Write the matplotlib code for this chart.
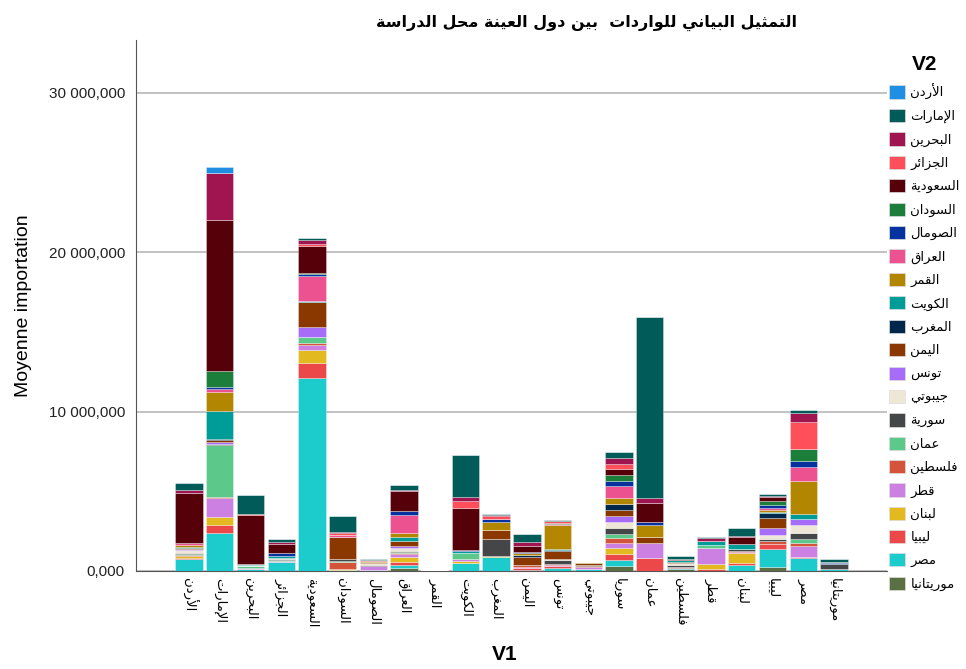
import matplotlib
matplotlib.use("Agg")
import matplotlib.pyplot as plt
from matplotlib.patches import Patch
from matplotlib.ticker import FuncFormatter
import numpy as np

# categories on the x axis (V1)
countries = ["الأردن", "الإمارات", "البحرين", "الجزائر", "السعودية", "السودان",
             "الصومال", "العراق", "القمر", "الكويت", "المغرب", "اليمن", "تونس",
             "جيبوتي", "سوريا", "عمان", "فلسطين", "قطر", "لبنان", "ليبيا", "مصر",
             "موريتانيا"]

# legend entries (V2), top of stack first
partners = ["الأردن", "الإمارات", "البحرين", "الجزائر", "السعودية", "السودان",
            "الصومال", "العراق", "القمر", "الكويت", "المغرب", "اليمن", "تونس",
            "جيبوتي", "سورية", "عمان", "فلسطين", "قطر", "لبنان", "ليبيا", "مصر",
            "موريتانيا"]

# mean imports in millions, one list per partner, in the order of countries
jordan     = [0, 0.36, 0, 0, 0, 0, 0, 0, 0, 0, 0, 0, 0, 0, 0, 0, 0, 0, 0, 0, 0, 0]
uae        = [0.5, 0, 1.21, 0.2, 0.1, 1.03, 0.05, 0.31, 0.03, 2.61, 0.03, 0.48, 0.08, 0.05, 0.38, 11.37, 0.15, 0.1, 0.52, 0.17, 0.15, 0.15]
bahrain    = [0.15, 2.97, 0, 0.1, 0.27, 0.08, 0, 0.07, 0, 0.25, 0.1, 0.25, 0, 0, 0.36, 0.31, 0, 0.19, 0.04, 0.05, 0.56, 0]
algeria    = [0.03, 0, 0.03, 0, 0.1, 0.12, 0, 0, 0, 0.42, 0.15, 0, 0.1, 0, 0.33, 0, 0, 0, 0, 0, 1.69, 0]
saudi      = [3.1, 9.47, 3.11, 0.59, 1.72, 0, 0, 1.25, 0, 2.65, 0, 0.36, 0, 0, 0.36, 1.17, 0.05, 0, 0.46, 0.25, 0, 0]
sudan      = [0.02, 1.0, 0, 0, 0.05, 0, 0, 0, 0, 0, 0, 0, 0.08, 0, 0.36, 0, 0, 0, 0, 0.27, 0.79, 0]
somalia    = [0.02, 0.12, 0, 0.2, 0.15, 0, 0, 0.25, 0, 0.07, 0.17, 0.06, 0, 0, 0.36, 0.17, 0, 0, 0, 0.15, 0.36, 0.05]
iraq       = [0.08, 0.23, 0, 0, 1.53, 0.1, 0.05, 1.1, 0, 0, 0, 0.05, 0.05, 0, 0.73, 0, 0, 0, 0, 0.15, 0.88, 0]
comoros    = [0.15, 1.19, 0, 0, 0.02, 0, 0.06, 0.25, 0, 0, 0.5, 0.1, 1.53, 0.06, 0.38, 0.75, 0.05, 0, 0, 0.1, 2.05, 0]
kuwait     = [0.05, 1.76, 0.03, 0.08, 0.05, 0, 0, 0.29, 0, 0.1, 0, 0, 0.06, 0, 0, 0, 0.1, 0.2, 0.33, 0.06, 0.31, 0]
morocco    = [0.02, 0.05, 0, 0, 0.03, 0, 0, 0, 0, 0, 0, 0.1, 0.05, 0, 0.38, 0, 0, 0, 0, 0.31, 0, 0.12]
yemen      = [0.08, 0.1, 0.04, 0, 1.51, 1.41, 0.1, 0.29, 0, 0, 0.59, 0.52, 0.48, 0.1, 0.36, 0.42, 0.08, 0, 0, 0.63, 0, 0]
tunisia    = [0.05, 0.15, 0, 0.03, 0.63, 0, 0, 0.1, 0, 0, 0, 0, 0, 0, 0.38, 0, 0, 0, 0, 0.48, 0.42, 0]
djibouti   = [0.2, 0, 0.03, 0.06, 0, 0, 0.08, 0.2, 0, 0, 0, 0, 0.08, 0, 0.36, 0, 0.1, 0, 0, 0.21, 0.5, 0]
syria      = [0.05, 0.05, 0, 0.05, 0, 0.1, 0.06, 0.05, 0.02, 0, 1.1, 0, 0.25, 0.08, 0.36, 0, 0.12, 0, 0.1, 0.15, 0.38, 0.31]
oman       = [0.05, 3.26, 0.12, 0.06, 0.42, 0.04, 0.04, 0.1, 0, 0.42, 0, 0, 0, 0, 0.27, 0, 0, 0.2, 0, 0, 0.21, 0]
palestine  = [0.03, 0.05, 0, 0, 0.12, 0.44, 0, 0.05, 0, 0, 0, 0.12, 0.08, 0.05, 0.33, 0, 0, 0, 0.05, 0.2, 0.21, 0]
qatar      = [0.05, 1.21, 0.05, 0.04, 0.31, 0, 0.25, 0.2, 0, 0.1, 0, 0.1, 0.05, 0.15, 0.33, 0.9, 0.05, 1.05, 0.1, 0, 0.67, 0]
lebanon    = [0.12, 0.5, 0.05, 0.04, 0.79, 0.1, 0, 0.3, 0, 0.15, 0.03, 0, 0, 0, 0.38, 0, 0, 0.31, 0.59, 0, 0, 0]
libya      = [0.05, 0.48, 0, 0, 0.98, 0, 0, 0.2, 0, 0, 0, 0.1, 0.1, 0, 0.33, 0.84, 0.05, 0.1, 0.15, 0.27, 0.06, 0]
egypt      = [0.73, 2.4, 0.1, 0.55, 12.08, 0.05, 0.05, 0.17, 0.03, 0.48, 0.88, 0.06, 0.2, 0.1, 0.4, 0, 0.07, 0, 0.38, 1.15, 0.84, 0.1]
mauritania = [0.02, 0, 0, 0, 0, 0, 0, 0.2, 0, 0, 0, 0, 0, 0, 0.31, 0, 0.1, 0, 0, 0.25, 0, 0]

series = [jordan, uae, bahrain, algeria, saudi, sudan, somalia, iraq, comoros,
          kuwait, morocco, yemen, tunisia, djibouti, syria, oman, palestine,
          qatar, lebanon, libya, egypt, mauritania]

colors = ["#1E8FE3", "#005B59", "#A0154F", "#FF4F5B", "#560009", "#1B7E3A",
          "#0632A0", "#EC5290", "#B38600", "#009C97", "#01284B", "#8A3700",
          "#A76DF8", "#EEE7D5", "#444647", "#5CC98B", "#D4533B", "#CB80E2",
          "#E2B91F", "#EC4849", "#1CCBCC", "#5B6F45"]

# --- simple Arabic shaping (presentation forms + right-to-left order) ---
_base = {'ء': (0xFE80, 1), 'آ': (0xFE81, 2), 'أ': (0xFE83, 2), 'إ': (0xFE87, 2),
         'ئ': (0xFE89, 4), 'ا': (0xFE8D, 2), 'ب': (0xFE8F, 4), 'ة': (0xFE93, 2),
         'ت': (0xFE95, 4), 'ث': (0xFE99, 4), 'ج': (0xFE9D, 4), 'ح': (0xFEA1, 4),
         'خ': (0xFEA5, 4), 'د': (0xFEA9, 2), 'ذ': (0xFEAB, 2), 'ر': (0xFEAD, 2),
         'ز': (0xFEAF, 2), 'س': (0xFEB1, 4), 'ش': (0xFEB5, 4), 'ص': (0xFEB9, 4),
         'ض': (0xFEBD, 4), 'ط': (0xFEC1, 4), 'ظ': (0xFEC5, 4), 'ع': (0xFEC9, 4),
         'غ': (0xFECD, 4), 'ف': (0xFED1, 4), 'ق': (0xFED5, 4), 'ك': (0xFED9, 4),
         'ل': (0xFEDD, 4), 'م': (0xFEE1, 4), 'ن': (0xFEE5, 4), 'ه': (0xFEE9, 4),
         'و': (0xFEED, 2), 'ى': (0xFEEF, 2), 'ي': (0xFEF1, 4)}
_lamalef = {'آ': 0xFEF5, 'أ': 0xFEF7, 'إ': 0xFEF9, 'ا': 0xFEFB}


def shape(text):
    units = []
    i = 0
    while i < len(text):
        c = text[i]
        if c == 'ل' and i + 1 < len(text) and text[i + 1] in _lamalef:
            units.append(('LA', text[i + 1]))
            i += 2
        else:
            units.append(c)
            i += 1
    out = []
    for k, u in enumerate(units):
        prev = units[k - 1] if k > 0 else None
        nxt = units[k + 1] if k + 1 < len(units) else None
        joins_prev = (prev is not None and not isinstance(prev, tuple)
                      and prev in _base and _base[prev][1] == 4)
        if isinstance(u, tuple):
            out.append(chr(_lamalef[u[1]] + (1 if joins_prev else 0)))
            continue
        if u not in _base:
            out.append(u)
            continue
        start, n = _base[u]
        joins_next = n == 4 and nxt is not None and (isinstance(nxt, tuple) or nxt in _base)
        if n == 1:
            form = 0
        elif joins_prev and joins_next:
            form = 3
        elif joins_next:
            form = 2
        elif joins_prev:
            form = 1
        else:
            form = 0
        out.append(chr(start + form))
    return ''.join(reversed(out))


plt.rcParams['font.family'] = ['Liberation Sans', 'DejaVu Sans']

fig = plt.figure(figsize=(9.66, 6.69), dpi=100)
ax = fig.add_axes([136 / 966, 1 - 571 / 669, (887 - 136) / 966, (571 - 40) / 669])

x = np.arange(len(countries))
bottom = np.zeros(len(countries))
# draw from the bottom of the stack (last legend entry) upward
for vals, col in zip(series[::-1], colors[::-1]):
    v = np.array(vals) * 1e6
    ax.bar(x, v, 0.89, bottom=bottom, color=col, edgecolor=(1, 1, 1, 0.45),
           linewidth=0.5, zorder=3)
    bottom += v

ax.set_xlim(-1.73, 22.73)
ax.set_ylim(0, 33.3e6)
ax.set_yticks([0, 10e6, 20e6, 30e6])
ax.yaxis.set_major_formatter(FuncFormatter(
    lambda v, p: "{:,}".format(int(round(v / 1000))).replace(",", " ") + ",000"
    if v > 0 else "0,000"))
ax.tick_params(axis='y', length=0, labelsize=11, pad=8, labelcolor='#222222')
ax.grid(axis='y', color='#b8b8b8', linewidth=1.2, zorder=0)

ax.set_xticks(x)
ax.set_xticklabels([shape(c) for c in countries], rotation=270, fontsize=9.5,
                   family='DejaVu Sans', va='top', ha='center')
ax.tick_params(axis='x', length=0, pad=5)

for s in ['top', 'right']:
    ax.spines[s].set_visible(False)
ax.spines['left'].set_color('#555555')
ax.spines['bottom'].set_color('#555555')

ax.set_ylabel("Moyenne importation", fontsize=14, labelpad=12)
fig.text(505 / 966, 1 - 655 / 669, "V1", fontsize=15, fontweight='bold',
         ha='center', va='center')

fig.text(587 / 966, 1 - 23 / 669, shape("التمثيل البياني للواردات  بين دول العينة محل الدراسة"),
         fontsize=11.5, fontweight='bold', family='DejaVu Sans', ha='center', va='center')

handles = [Patch(facecolor=c, edgecolor='#dddddd', linewidth=0.5) for c in colors]
leg = fig.legend(handles, [shape(p) for p in partners], loc='upper left',
                 bbox_to_anchor=(884 / 966, 1 - 50 / 669), frameon=False,
                 title="V2", prop={'family': 'DejaVu Sans', 'size': 9.5},
                 handlelength=1.2, handleheight=1.15, handletextpad=0.4,
                 labelspacing=0.7, borderaxespad=0)
leg.get_title().set_fontsize(15)
leg.get_title().set_fontweight('bold')

fig.savefig("out.png", dpi=100)
